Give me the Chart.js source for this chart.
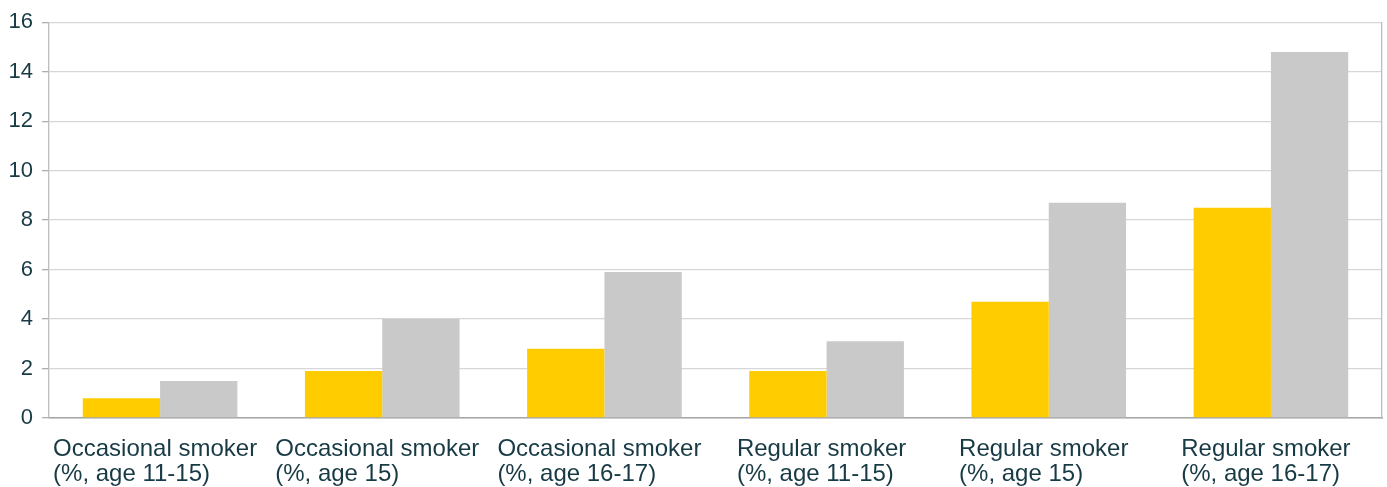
<!DOCTYPE html>
<html>
<head>
<meta charset="utf-8">
<title>Smokers</title>
<script src="https://cdn.jsdelivr.net/npm/chart.js@4.4.1/dist/chart.umd.min.js"></script>
<style>
    html, body { margin: 0; padding: 0; background: #fff; }
    #wrap { width: 1387px; height: 487px; }
</style>
</head>
<body>
<div id="wrap"><canvas id="chart"></canvas></div>
<script>
// Categories (two lines each)
const categories = [
    ['Occasional smoker', '(%, age 11-15)'],
    ['Occasional smoker', '(%, age 15)'],
    ['Occasional smoker', '(%, age 16-17)'],
    ['Regular smoker', '(%, age 11-15)'],
    ['Regular smoker', '(%, age 15)'],
    ['Regular smoker', '(%, age 16-17)']
];

// Series values
const yellowValues = [0.8, 1.9, 2.8, 1.9, 4.7, 8.5];
const greyValues = [1.5, 4.0, 5.9, 3.1, 8.7, 14.8];

// Y axis
const yMin = 0;
const yMax = 16;
const yStep = 2;

const textColor = '#173A45';
const fontFamily = '"Liberation Sans", Arial, Helvetica, sans-serif';
const labelFont = '24px ' + fontFamily;

// Draw x labels as a centred block with left-aligned lines
const leftLabels = {
    id: 'leftLabels',
    afterDraw(chart) {
        const sx = chart.scales.x;
        const ctx = chart.ctx;
        ctx.save();
        ctx.font = labelFont;
        ctx.fillStyle = textColor;
        ctx.textAlign = 'left';
        ctx.textBaseline = 'alphabetic';
        sx.ticks.forEach((t, i) => {
            const lines = categories[i];
            const w = Math.max(...lines.map(l => ctx.measureText(l).width));
            const x = sx.getPixelForTick(i) - w / 2 - 5;
            lines.forEach((l, j) => {
                ctx.fillText(l, x, sx.top + 38 + j * 25);
            });
        });
        ctx.restore();
    }
};

new Chart(document.getElementById('chart'), {
    type: 'bar',
    data: {
        labels: categories,
        datasets: [{
            data: yellowValues,
            backgroundColor: '#FFCC00',
            borderWidth: 0,
            categoryPercentage: 0.696,
            barPercentage: 1.0
        }, {
            data: greyValues,
            backgroundColor: '#C9C9C9',
            borderWidth: 0,
            categoryPercentage: 0.696,
            barPercentage: 1.0
        }]
    },
    options: {
        responsive: true,
        maintainAspectRatio: false,
        animation: false,
        layout: { padding: { top: 11, right: 5, left: 0, bottom: 0 } },
        plugins: {
            legend: { display: false },
            tooltip: { enabled: false }
        },
        scales: {
            x: {
                grid: { display: false },
                border: { display: true, color: '#A6A6A6', width: 1.5 },
                ticks: {
                    color: 'rgba(0,0,0,0)',
                    font: { family: fontFamily, size: 24 },
                    maxRotation: 0,
                    autoSkip: false
                },
                afterFit: s => { s.height = 69; }
            },
            y: {
                min: yMin,
                max: yMax,
                ticks: {
                    stepSize: yStep,
                    color: textColor,
                    font: { family: fontFamily, size: 22 },
                    padding: 9
                },
                grid: {
                    color: '#D6D6D6',
                    lineWidth: 1.3,
                    tickLength: 7,
                    tickColor: '#ADADAD'
                },
                border: { display: true, color: '#BDBDBD', width: 1.3 },
                afterFit: s => { s.width = 49; }
            },
            y2: {
                position: 'right',
                min: yMin,
                max: yMax,
                ticks: { display: false },
                grid: { display: false },
                border: { display: true, color: '#BDBDBD', width: 1.3 },
                afterFit: s => { s.width = 0; }
            }
        }
    },
    plugins: [leftLabels]
});
</script>
</body>
</html>
